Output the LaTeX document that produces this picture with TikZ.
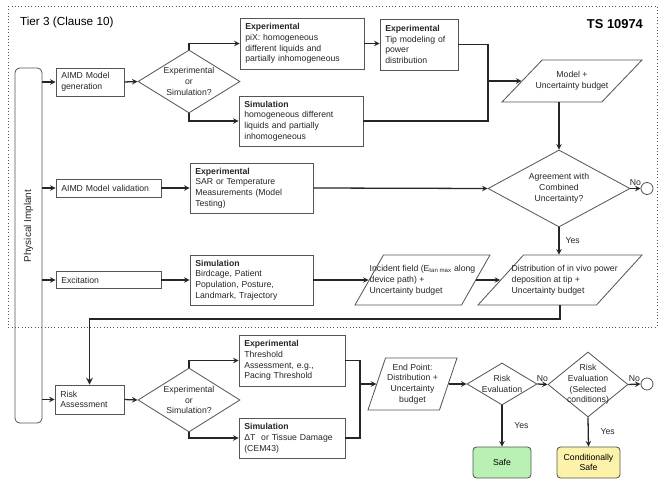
\documentclass[tikz,border=0pt]{standalone}
\usepackage{fontspec}
\setmainfont{Liberation Sans}
\usetikzlibrary{positioning,arrows,shapes.geometric,calc}

\definecolor{boxgray}{HTML}{555555}
\definecolor{safegreen}{HTML}{B9F0B3}
\definecolor{condyellow}{HTML}{FCF2A9}
\newcommand{\boxfont}{\fontsize{7.4}{9.2}\selectfont}

\begin{document}
\begin{tikzpicture}[x=0.03cm,y=-0.03cm,
  block/.style={rectangle,draw=boxgray,line width=0.7pt,fill=white,font=\boxfont,text=black!85,align=left,inner xsep=0.16cm,inner ysep=0pt,text width=#1},
  decision/.style={diamond,draw=boxgray,line width=0.7pt,inner sep=0pt,minimum width=#1},
  io/.style={trapezium,trapezium stretches=true,draw=boxgray,line width=0.7pt,inner sep=1pt},
  txt/.style={font=\boxfont,text=black!85,align=#1},
  term/.style={rectangle,rounded corners=3pt,draw=boxgray,line width=0.7pt,fill=#1,font=\boxfont,align=center,minimum height=0.93cm},
  stop/.style={circle,draw=boxgray,line width=0.7pt,fill=white,minimum size=0.36cm,inner sep=0pt},
  wire/.style={line width=1.1pt,black!85},
  arr/.style={->,>=stealth,line width=1.1pt,black!85},
  bigarr/.style={->,>=stealth,line width=1.6pt,black!85},
  yn/.style={font=\boxfont,inner sep=1pt},
]
\useasboundingbox (0,0) rectangle (666,485);

% Tier 3 frame
\draw[boxgray,dotted,line width=0.8pt] (8,6) rectangle (657,327);
\node[anchor=west,font=\fontsize{10}{12}\selectfont] (tier) at (16,22) {Tier 3 (Clause 10)};
\node[anchor=east,font=\fontsize{11}{13}\selectfont\bfseries] (ts) at (647,24) {TS 10974};

% Physical implant
\node[rectangle,rounded corners=4pt,draw=boxgray,line width=0.7pt,minimum width=0.81cm,minimum height=10.65cm] (impl) at (28.5,245.5) {};
\node[rotate=90,font=\fontsize{8.5}{10}\selectfont,text=black!85] (impltxt) at (28.5,226) {Physical Implant};

% Model generation
\node[block=1.72cm,minimum height=0.84cm] (gen) at (90,82) {AIMD Model\\generation};
\node[decision=3.06cm,minimum height=1.89cm,label={[txt=center]center:{Experimental\\or\\Simulation?}}] (d1) at (189,81.5) {};
\node[block=3.4cm,minimum height=1.53cm] (exp1) at (302,43.5) {\textbf{Experimental}\\piX: homogeneous\\different liquids and\\partially inhomogeneous};
\node[block=2.02cm,minimum height=1.53cm] (exp2) at (419,44.5) {\textbf{Experimental}\\Tip modeling of\\power\\distribution};
\node[block=3.4cm,minimum height=1.5cm] (sim1) at (301,121) {\textbf{Simulation}\\homogeneous different\\liquids and partially\\inhomogeneous};
\node[io,trapezium left angle=56,trapezium right angle=124,minimum width=4.2cm,minimum height=1.26cm,label={[txt=center]center:{Model +\\Uncertainty budget}}] (model) at (572,81) {};
\coordinate (join1) at (488,81);

\draw[arr] (impl.east |- gen.west) -- (gen.west);
\draw[arr] (gen.east) -- (d1.west);
\draw[arr] (d1.north) |- (exp1.west);
\draw[arr] (d1.south) |- (sim1.west);
\draw[arr] (exp1.east) -- (exp1.east -| exp2.west);
\draw[wire] (exp2.east) -| (join1) |- (sim1.east);
\draw[arr] (join1) -- (model.west);

% Model validation
\node[block=2.83cm,minimum height=0.54cm] (val) at (108.5,188) {AIMD Model validation};
\node[block=3.37cm,minimum height=1.5cm] (expv) at (251.5,188) {\textbf{Experimental}\\SAR or Temperature\\Measurements (Model\\Testing)};
\node[decision=4.26cm,minimum height=2.31cm,label={[txt=center]center:{Agreement with\\Combined\\Uncertainty?}}] (d2) at (559,188.5) {};
\node[stop] (stop1) at (647,188.5) {};

\draw[arr] (impl.east |- val.west) -- (val.west);
\draw[arr] (val.east) -- (expv.west);
\draw[arr] (expv.east) -- (d2.west);
\draw[arr] (model.south -| d2.north) -- (d2.north);
\draw[arr] (d2.east) -- node[yn,above=1pt]{No} (stop1.west);

% Excitation
\node[block=2.83cm,minimum height=0.51cm] (exc) at (108.5,280) {Excitation};
\node[block=3.37cm,minimum height=1.5cm] (simx) at (251.5,280) {\textbf{Simulation}\\Birdcage, Patient\\Population, Posture,\\Landmark, Trajectory};
\node[io,trapezium left angle=70,trapezium right angle=110,minimum width=4.05cm,minimum height=1.5cm,label={[txt=left]center:{Incident field (E\textsubscript{tan max} along\\device path) +\\Uncertainty budget}}] (inc) at (422.5,280) {};
\node[io,trapezium left angle=58,trapezium right angle=122,minimum width=4.92cm,minimum height=1.5cm,label={[txt=left,xshift=4pt]center:{Distribution of in vivo power\\deposition at tip +\\Uncertainty budget}}] (dist) at (560,280) {};

\draw[arr] (impl.east |- exc.west) -- (exc.west);
\draw[arr] (exc.east) -- (simx.west);
\draw[arr] (simx.east) -- (inc.west);
\draw[arr] (inc.east) -- (dist.west);
\draw[arr] (d2.south) -- node[yn,right=4pt]{Yes} (d2.south |- dist.north);

% Risk assessment
\node[block=1.75cm,minimum height=0.87cm] (risk) at (89.5,399.5) {Risk\\Assessment};
\node[decision=3.06cm,minimum height=1.92cm,label={[txt=center]center:{Experimental\\or\\Simulation?}}] (d3) at (189,400) {};
\node[block=2.86cm,minimum height=1.53cm] (exp3) at (292,360.5) {\textbf{Experimental}\\Threshold\\Assessment, e.g.,\\Pacing Threshold};
\node[block=2.86cm,minimum height=1.2cm] (sim3) at (292,438) {\textbf{Simulation}\\ΔT\ \ or Tissue Damage\\(CEM43)};
\node[io,trapezium left angle=72,trapezium right angle=108,minimum width=2.67cm,minimum height=1.56cm,label={[txt=center]center:{End Point:\\Distribution +\\Uncertainty\\budget}}] (endp) at (412.5,384) {};
\coordinate (join2) at (360,384);
\node[decision=2.1cm,minimum height=1.26cm,label={[txt=center]center:{Risk\\Evaluation}}] (d4) at (502,384) {};
\node[decision=2.4cm,minimum height=1.95cm,label={[txt=center]center:{Risk\\Evaluation\\(Selected\\conditions)}}] (d5) at (588,384.5) {};
\node[stop] (stop2) at (647,384) {};
\node[term=safegreen,minimum width=1.74cm] (safe) at (502,462.5) {Safe};
\node[term=condyellow,minimum width=1.89cm] (csafe) at (588.5,462.5) {Conditionally\\Safe};

\draw[bigarr] (dist.south) -- ++(0,14) -| (risk.north);
\draw[arr] (impl.east |- risk.west) -- (risk.west);
\draw[arr] (risk.east) -- (d3.west);
\draw[arr] (d3.north) |- (exp3.west);
\draw[arr] (d3.south) |- (sim3.west);
\draw[wire] (exp3.east) -| (join2) |- (sim3.east);
\draw[arr] (join2) -- (endp.west);
\draw[arr] (endp.east) -- (d4.west);
\draw[arr] (d4.east) -- node[yn,above=1pt]{No} (d5.west);
\draw[arr] (d5.east) -- node[yn,above=1pt]{No} (stop2.west);
\draw[arr] (d4.south) -- node[yn,right=9pt]{Yes} (safe.north);
\draw[arr] (d5.south) -- node[yn,right=9pt]{Yes} (csafe.north);

\end{tikzpicture}
\end{document}
